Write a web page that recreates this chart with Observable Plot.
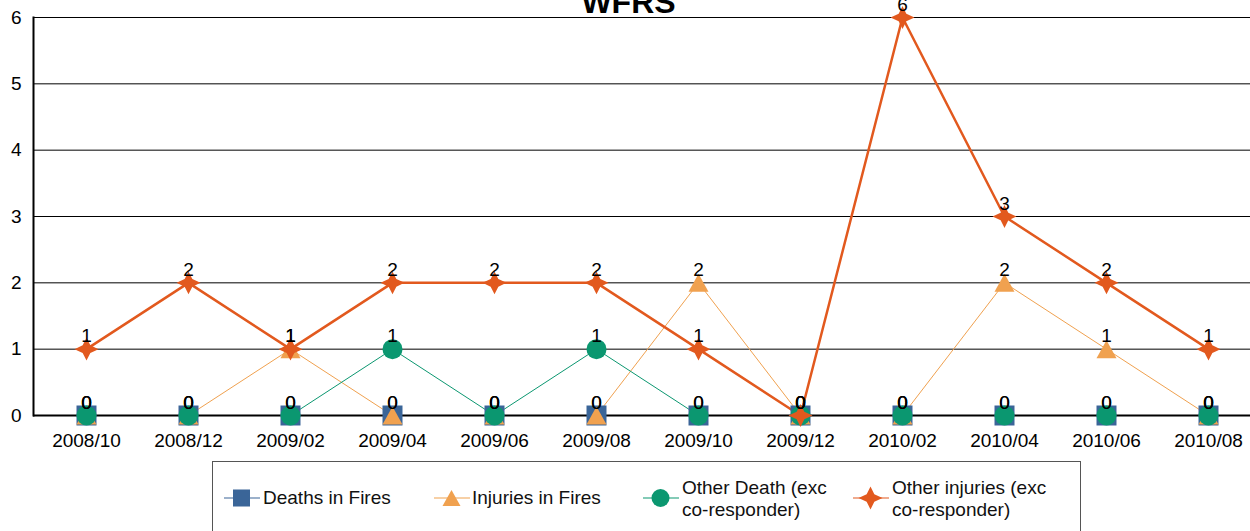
<!DOCTYPE html>
<html><head><meta charset="utf-8">
<script src="https://cdn.jsdelivr.net/npm/d3@7"></script>
<script src="https://cdn.jsdelivr.net/npm/@observablehq/plot@0.6"></script>
<style>
body{margin:0;overflow:hidden;background:#fff;font-family:"Liberation Sans",Arial,sans-serif;}
#wrap{position:relative;width:1260px;height:531px;overflow:hidden;}
.lg{position:absolute;font-size:19px;line-height:22px;color:#111;white-space:nowrap;}
</style></head><body><div id="wrap"></div>
<script>
const months = ["2008/10","2008/12","2009/02","2009/04","2009/06","2009/08","2009/10","2009/12","2010/02","2010/04","2010/06","2010/08"];
const deathsInFires   = [0,0,0,0,0,0,0,0,0,0,0,0];
const injuriesInFires = [0,0,1,0,0,0,2,0,0,2,1,0];
const otherDeath      = [0,0,0,1,0,1,0,0,0,0,0,0];
const otherInjuries   = [1,2,1,2,2,2,1,0,6,3,2,1];
const seriesNames = ["Deaths in Fires","Injuries in Fires","Other Death (exc\nco-responder)","Other injuries (exc\nco-responder)"];
const yTicks = [0,1,2,3,4,5,6];

const colors = ["#3a6598","#f0a14f","#0b9770","#e2591e"];

const sq = {draw(c, size){const r=Math.sqrt(size/Math.PI); c.rect(-r,-r,2*r,2*r);}};
const tri = {draw(c, size){const r=Math.sqrt(size/Math.PI); c.moveTo(0,-0.9*r); c.lineTo(r,0.9*r); c.lineTo(-r,0.9*r); c.closePath();}};
const circ = {draw(c, size){const r=Math.sqrt(size/Math.PI); c.moveTo(r,0); c.arc(0,0,r,0,2*Math.PI);}};
const star = {draw(c, size){const r=Math.sqrt(size/Math.PI); const k=0.32*r, v=0.95*r;
  c.moveTo(0,-v); c.lineTo(k,-k); c.lineTo(r,0); c.lineTo(k,k); c.lineTo(0,v); c.lineTo(-k,k); c.lineTo(-r,0); c.lineTo(-k,-k); c.closePath();}};
const symbols = [sq, tri, circ, star];
const radii = [10, 10, 10, 12];
const widths = [1.2, 1, 1, 2.5];

const all = [deathsInFires, injuriesInFires, otherDeath, otherInjuries];
const rows = all.map((vals, s) => vals.map((v, i) => ({month: months[i], value: v, s})));

const marks = [
  Plot.ruleY([1,2,3,4,5,6], {stroke:"#000", strokeWidth:1}),
];
rows.forEach((r, s) => {
  marks.push(Plot.line(r, {x:"month", y:"value", stroke: colors[s], strokeWidth: widths[s]}));
});
marks.push(Plot.ruleY([0], {stroke:"#000", strokeWidth:2}));
marks.push(Plot.frame({anchor:"left", stroke:"#000", strokeWidth:2}));
rows.forEach((r, s) => {
  marks.push(Plot.dot(r, {x:"month", y:"value", fill: colors[s], stroke:"none", r: radii[s], symbol: symbols[s]}));
});
rows.forEach((r, s) => {
  marks.push(Plot.text(r, {x:"month", y:"value", text: d => String(d.value), dy:-7, lineAnchor:"bottom", fill:"#000", fontSize:19}));
});
marks.push(Plot.text(["WFRS"], {frameAnchor:"top", dx:-18.5, dy:-4.5, lineAnchor:"bottom", fontSize:32, fontWeight:"bold", fill:"#000"}));

const chart = Plot.plot({
  width: 1260, height: 461,
  marginTop: 17, marginLeft: 33, marginRight: 0, marginBottom: 46,
  style: {fontFamily:"Liberation Sans, Arial, sans-serif", fontSize:"19px", color:"#000", background:"#fff", maxWidth:"none", overflow:"visible"},
  x: {type:"point", domain: months, padding:0.5, label:null, tickSize:0, tickPadding:18},
  y: {domain:[0,6], ticks: yTicks, label:null, tickSize:0, tickPadding:12, tickFormat: d3.format("d")},
  marks
});
const wrap = document.getElementById("wrap");
wrap.appendChild(chart);

// legend
const box = document.createElement("div");
box.style.cssText = "position:absolute;left:212px;top:461px;width:867px;height:90px;border:1px solid #555;background:#fff;";
wrap.appendChild(box);
const items = [
  {lx:224, tx:263, twoLine:false},
  {lx:434, tx:472, twoLine:false},
  {lx:643, tx:682, twoLine:true},
  {lx:853, tx:892, twoLine:true}
];
const cy = 498;
const symPaths = [
  r => `<rect x="${-r}" y="${-r}" width="${2*r}" height="${2*r}"/>`,
  r => `<path d="M0,${-0.9*r}L${r},${0.9*r}L${-r},${0.9*r}Z"/>`,
  r => `<circle r="${r}"/>`,
  r => {const k=0.32*r,v=0.95*r; return `<path d="M0,${-v}L${k},${-k}L${r},0L${k},${k}L0,${v}L${-k},${k}L${-r},0L${-k},${-k}Z"/>`;}
];
const lr = [8.5, 9, 9, 12];
items.forEach((it, s) => {
  const sw = document.createElement("div");
  sw.style.cssText = `position:absolute;left:${it.lx}px;top:${cy-14}px;width:36px;height:28px;`;
  sw.innerHTML = `<svg width="36" height="28"><line x1="0" x2="36" y1="14" y2="14" stroke="${colors[s]}" stroke-width="1.2"/><g transform="translate(17.5,14)" fill="${colors[s]}">${symPaths[s](lr[s])}</g></svg>`;
  wrap.appendChild(sw);
  const t = document.createElement("div");
  t.className = "lg";
  t.style.left = it.tx + "px";
  t.style.top = (it.twoLine ? cy - 21 : cy - 11) + "px";
  t.innerHTML = seriesNames[s].replace("\n", "<br>");
  wrap.appendChild(t);
});
</script></body></html>
